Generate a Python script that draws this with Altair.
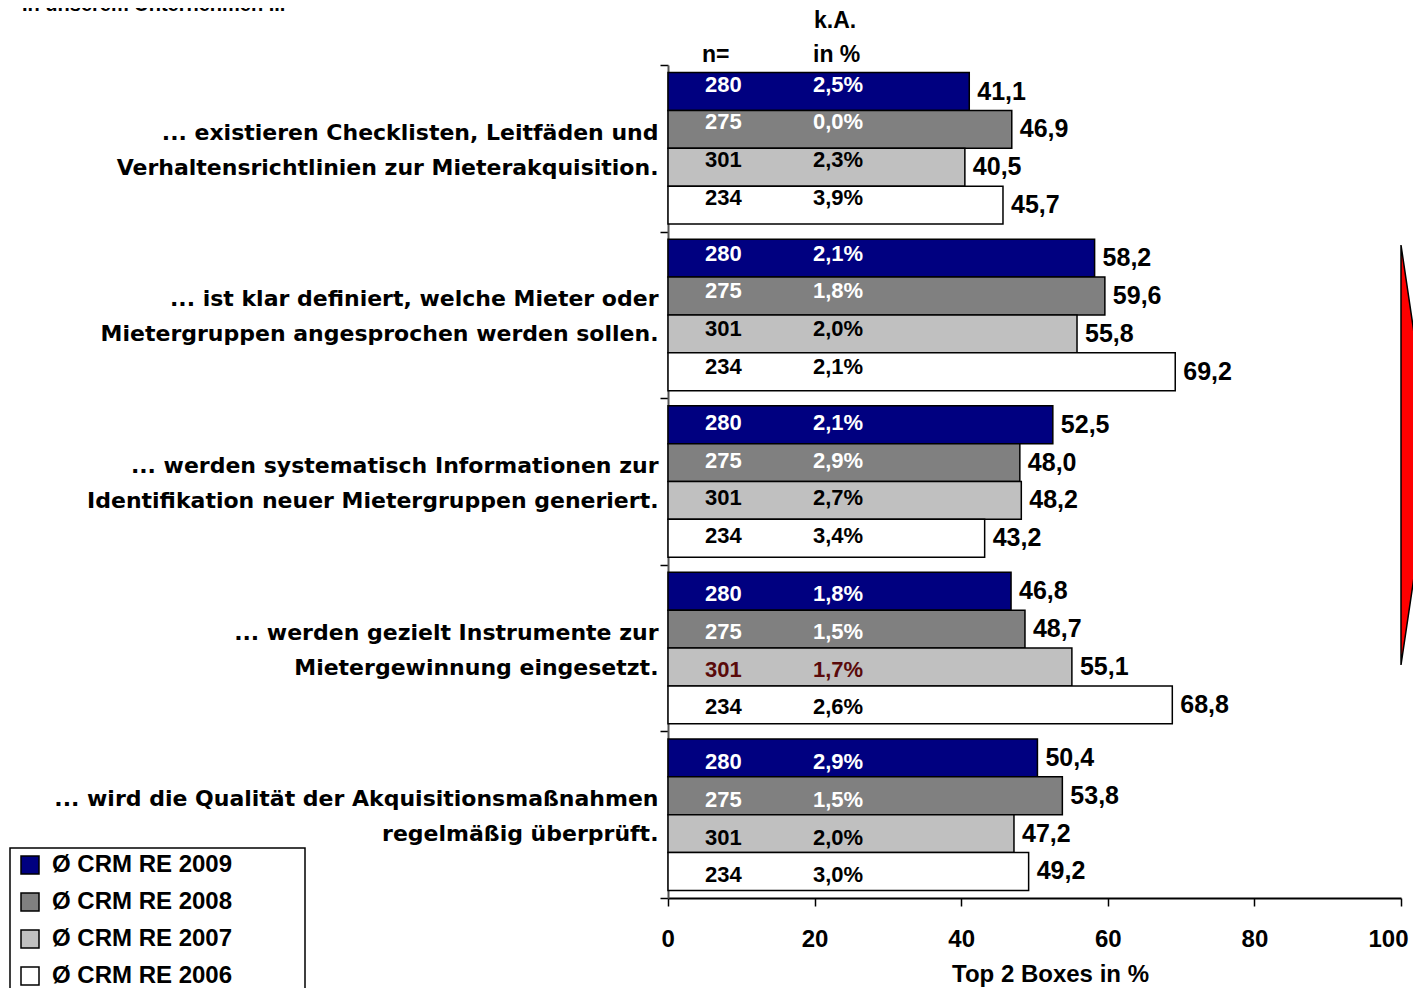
import altair as alt
import pandas as pd

categories = [
    "... existieren Checklisten, Leitfäden und|Verhaltensrichtlinien zur Mieterakquisition.",
    "... ist klar definiert, welche Mieter oder|Mietergruppen angesprochen werden sollen.",
    "... werden systematisch Informationen zur|Identifikation neuer Mietergruppen generiert.",
    "... werden gezielt Instrumente zur|Mietergewinnung eingesetzt.",
    "... wird die Qualität der Akquisitionsmaßnahmen|regelmäßig überprüft.",
]
series = ["Ø CRM RE 2009", "Ø CRM RE 2008", "Ø CRM RE 2007", "Ø CRM RE 2006"]
colors = ["#000080", "#808080", "#c0c0c0", "#ffffff"]
n_values = [280, 275, 301, 234]

top2 = {
    "Ø CRM RE 2009": [41.1, 58.2, 52.5, 46.8, 50.4],
    "Ø CRM RE 2008": [46.9, 59.6, 48.0, 48.7, 53.8],
    "Ø CRM RE 2007": [40.5, 55.8, 48.2, 55.1, 47.2],
    "Ø CRM RE 2006": [45.7, 69.2, 43.2, 68.8, 49.2],
}
ka = {
    "Ø CRM RE 2009": [2.5, 2.1, 2.1, 1.8, 2.9],
    "Ø CRM RE 2008": [0.0, 1.8, 2.9, 1.5, 1.5],
    "Ø CRM RE 2007": [2.3, 2.0, 2.7, 1.7, 2.0],
    "Ø CRM RE 2006": [3.9, 2.1, 3.4, 2.6, 3.0],
}

rows = []
for ci, c in enumerate(categories):
    for si, s in enumerate(series):
        rows.append({"cat": c, "ci": ci, "series": s, "si": si,
                     "value": top2[s][ci], "n": n_values[si], "ka": ka[s][ci]})
df = pd.DataFrame(rows)

FONT = "Liberation Sans"
CAT_FONT = "DejaVu Sans"

base = alt.Chart(df).transform_calculate(
    vlabel="replace(format(datum.value, '.1f'), '.', ',')",
    kalabel="replace(format(datum.ka, '.1f'), '.', ',') + '%'",
    tc="datum.ci == 3 && datum.si == 2 ? '#5a0a0a' : (datum.si < 2 ? '#ffffff' : '#000000')",
)

y_enc = alt.Y(
    "cat:N", sort=categories, title=None,
    scale=alt.Scale(paddingInner=0, paddingOuter=0),
    axis=alt.Axis(
        labelExpr="split(datum.label, '|')", labelLineHeight=35,
        labelFontSize=22, labelFontWeight="bold", labelColor="black", labelFont=CAT_FONT,
        labelLimit=700, labelPadding=2, labelOffset=-16, tickSize=8, tickBand="extent",
        tickColor="black", tickWidth=1.5, domainColor="#555555", domainWidth=2,
    ),
)
yoff = alt.YOffset("series:N", sort=series,
                   scale=alt.Scale(paddingInner=0, paddingOuter=0.2))
y_plain = alt.Y("cat:N", sort=categories)

x_enc = alt.X(
    "value:Q", title="Top 2 Boxes in %",
    scale=alt.Scale(domain=[0, 100]),
    axis=alt.Axis(
        values=[0, 20, 40, 60, 80, 100], grid=False, tickSize=8, tickWidth=1.5,
        tickColor="black", domainColor="black", domainWidth=2,
        labelFontSize=24, labelFontWeight="bold", labelFont=FONT, labelColor="black",
        labelPadding=21, labelFlush=True, labelFlushOffset=7,
        titleFontSize=24, titleFontWeight="bold", titleFont=FONT,
        titleColor="black", titlePadding=11, titleX=382,
    ),
)

bars = base.mark_bar(stroke="black", strokeWidth=1.5).encode(
    x=x_enc, y=y_enc, yOffset=yoff,
    color=alt.Color("series:N", sort=series,
                    scale=alt.Scale(domain=series, range=colors),
                    legend=alt.Legend(
                        title=None, orient="none", legendX=-657, legendY=781,
                        padding=7, symbolType="square", symbolSize=324,
                        symbolStrokeColor="black", symbolStrokeWidth=1.5,
                        labelFontSize=24, labelFontWeight="bold", labelFont=FONT,
                        labelColor="black", rowPadding=13, labelOffset=10,
                        labelLimit=400,
                    )),
)

vals = base.mark_text(align="left", baseline="middle", dx=8, fontSize=25,
                      fontWeight="bold", font=FONT, color="black").encode(
    x="value:Q", y=y_plain, yOffset=yoff, text="vlabel:N",
)

# small vertical drift of the in-bar labels per group, as in the original
group_dy = [-7, -4.5, -2, 2.5, 4]
inner_layers = []
for ci, d in enumerate(group_dy):
    sub = base.transform_filter(f"datum.ci == {ci}")
    inner_layers.append(sub.mark_text(align="left", baseline="middle", dy=d, fontSize=22,
                                      fontWeight="bold", font=FONT).encode(
        x=alt.value(37), y=y_plain, yOffset=yoff,
        text="n:N", color=alt.Color("tc:N", scale=None)))
    inner_layers.append(sub.mark_text(align="left", baseline="middle", dy=d, fontSize=22,
                                      fontWeight="bold", font=FONT).encode(
        x=alt.value(145), y=y_plain, yOffset=yoff,
        text="kalabel:N", color=alt.Color("tc:N", scale=None)))

hdr_df = pd.DataFrame({"t": ["n=", "k.A.", "in %"],
                       "px": [34, 146, 145], "py": [-10, -44, -10]})
headers = alt.Chart(hdr_df).mark_text(align="left", baseline="middle", fontSize=23,
                                      fontWeight="bold", font=FONT, color="black").encode(
    x=alt.X("px:Q", scale=None), y=alt.Y("py:Q", scale=None), text="t:N",
)

top_df = pd.DataFrame({"t": ["In unserem Unternehmen ..."]})
toptitle = alt.Chart(top_df).mark_text(align="left", baseline="alphabetic", fontSize=20,
                                       fontWeight="bold", font=FONT, color="black").encode(
    x=alt.value(-646), y=alt.value(-54), text="t:N",
)

legend_box = alt.Chart(top_df).mark_rect(fill="white", stroke="black", strokeWidth=1.5).encode(
    x=alt.value(-658), x2=alt.value(-363), y=alt.value(783), y2=alt.value(960),
)

triangle = alt.Chart(top_df).mark_point(
    shape="M0,-1L0.148,0L0,1Z", size=176400, filled=True, fill="#ff0000",
    stroke="black", strokeWidth=1.5, opacity=1,
).encode(x=alt.value(733), y=alt.value(390))

chart = alt.layer(legend_box, bars, vals, *inner_layers, headers, toptitle, triangle).properties(
    width=733, height=833,
    autosize=alt.AutoSizeParams(type="none"),
    padding={"left": 660, "top": 57, "right": 12, "bottom": 90},
).configure(font=FONT).configure_view(stroke=None)

chart.save("out.html", embed_options={"renderer": "svg", "actions": False})
